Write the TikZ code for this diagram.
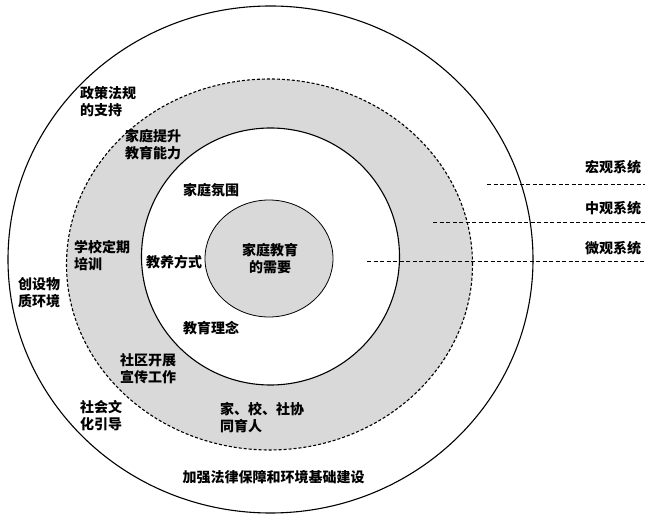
\documentclass[tikz,border=0pt]{standalone}
\usepackage{fontspec}
\newfontfamily\cjk{Noto Sans CJK SC}
\usetikzlibrary{positioning}

\begin{document}
\begin{tikzpicture}[
    x=1pt, y=1pt,
    every node/.style={font=\cjk\bfseries\fontsize{14}{17}\selectfont, inner sep=0pt},
    ring/.style={draw=black, line width=1.1pt},
    dashring/.style={draw=black, line width=1.1pt, dash pattern=on 3pt off 2pt},
    level/.style={draw=black, line width=1pt, dash pattern=on 4pt off 2.5pt},
    lbl/.style={align=left, anchor=west}
    ]
    \useasboundingbox (0,0) rectangle (651,522);

    \draw[ring, fill=white] (270.5,262.5) ellipse [x radius=262.5, y radius=253.5];
    \draw[dashring, fill=gray!30] (269.5,257.5) ellipse [x radius=203, y radius=185.5];
    \draw[ring, fill=white] (270.5,265.5) ellipse [x radius=129, y radius=128.5];
    \draw[ring, line width=0.8pt, fill=gray!30] (269,263.5) ellipse [x radius=64, y radius=58.5];

    \coordinate (macroL) at (487,337);
    \coordinate (macroR) at (645,337);
    \coordinate (mesoL) at (433,299);
    \coordinate (mesoR) at (645,299);
    \coordinate (microL) at (367,260);
    \coordinate (microR) at (645,260);
    \draw[level] (macroL) -- (macroR);
    \draw[level] (mesoL) -- (mesoR);
    \draw[level] (microL) -- (microR);

    \node (macro) at (613,355) {宏观系统};
    \node (meso) at (613,314) {中观系统};
    \node (micro) at (613,274) {微观系统};

    \node[align=center] (need) at (270,263.5) {家庭教育\\的需要};
    \node (atmos) at (211,332) {家庭氛围};
    \node (style) at (174,260) {教养方式};
    \node (idea) at (211,194) {教育理念};

    \node[lbl] (ability) at (125,377) {家庭提升\\教育能力};
    \node[lbl] (school) at (74,266) {学校定期\\培训};
    \node[lbl] (comm) at (120,153) {社区开展\\宣传工作};
    \node[lbl] (coop) at (220,104) {家、校、社协\\同育人};

    \node[lbl] (policy) at (80,420.5) {政策法规\\的支持};
    \node[lbl] (env) at (18,229.5) {创设物\\质环境};
    \node[lbl] (culture) at (80,106) {社会文\\化引导};
    \node (law) at (273.5,45) {加强法律保障和环境基础建设};
\end{tikzpicture}
\end{document}
